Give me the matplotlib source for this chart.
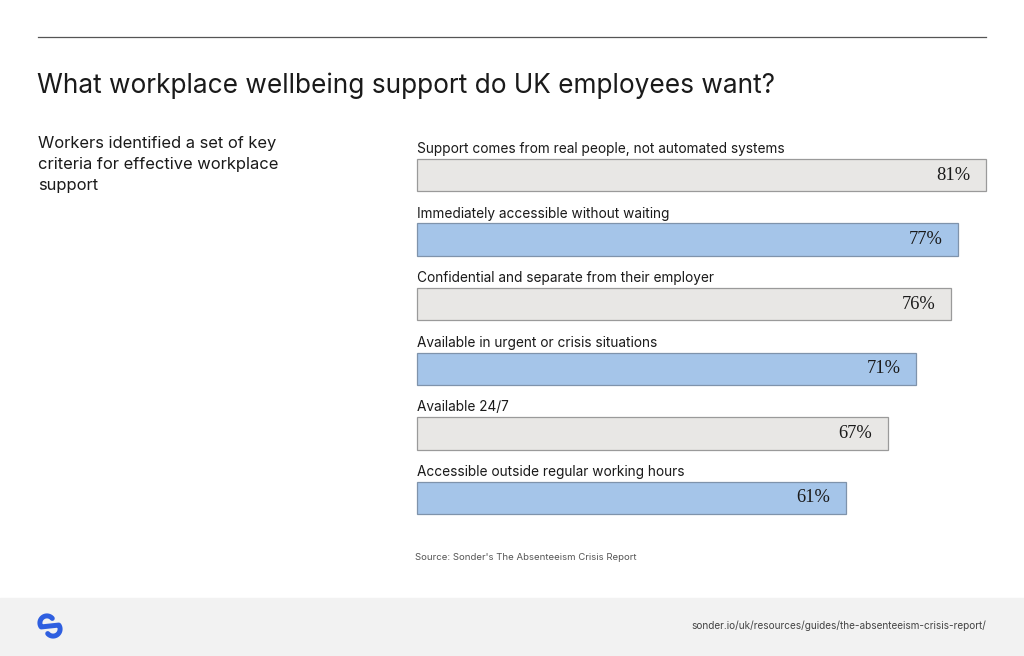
import numpy as np
import matplotlib.pyplot as plt
from matplotlib.patches import Rectangle

# data
criteria = [
    "Support comes from real people, not automated systems",
    "Immediately accessible without waiting",
    "Confidential and separate from their employer",
    "Available in urgent or crisis situations",
    "Available 24/7",
    "Accessible outside regular working hours",
]
shares = [81, 77, 76, 71, 67, 61]

title = "What workplace wellbeing support do UK employees want?"
subtitle = "Workers identified a set of key\ncriteria for effective workplace\nsupport"
source = "Source: Sonder's The Absenteeism Crisis Report"
url = "sonder.io/uk/resources/guides/the-absenteeism-crisis-report/"

W, H = 1024, 656
GREY = "#e8e7e5"
BLUE = "#a5c5e9"
TEXT = "#1a1a1a"

fig = plt.figure(figsize=(W / 100, H / 100), dpi=100)
fig.patch.set_facecolor("white")


def fx(px):
    return px / W


def fy(py):
    return 1 - py / H


# top rule
fig.add_artist(plt.Line2D([fx(38), fx(986)], [fy(37), fy(37)], color="#555555", lw=0.9))

fig.text(fx(37), fy(86), title, fontsize=18.9, family="Inter", color=TEXT, va="center")
fig.text(fx(38), fy(136), subtitle, fontsize=11.9, family="Inter", color=TEXT,
         va="top", linespacing=1.5)

# bar chart, axis spans bar area
row = 64.6
top = 175 - row / 2
bottom = 175 + 5 * row + row / 2
ax = fig.add_axes([fx(417), fy(bottom), fx(986) - fx(417), (bottom - top) / H])
ax.set_xlim(0, 81)
ax.set_ylim(len(shares) - 0.5, -0.5)
ax.axis("off")

for i, (lab, v) in enumerate(zip(criteria, shares)):
    fc = GREY if i % 2 == 0 else BLUE
    ec = "#9a9a9a" if i % 2 == 0 else "#7f93ab"
    bars = ax.barh(i, v, height=0.5, color=fc, edgecolor=ec, linewidth=0.9)
    for b in bars:
        b.set_clip_on(False)
    ax.text(0, i - 0.34, lab, fontsize=9.85, family="Inter", color=TEXT,
            va="baseline", ha="left")
    ax.text(v - 2.2, i, f"{v}%", fontsize=13.3, family="Liberation Serif",
            color=TEXT, va="center", ha="right")

fig.text(fx(415), fy(557), source, fontsize=6.9, family="Inter", color="#555555", va="center")

# footer band
fig.add_artist(Rectangle((0, 0), 1, fy(598), transform=fig.transFigure,
                         color="#f2f2f2", zorder=0))
fig.text(fx(986), fy(626), url, fontsize=7.2, family="Inter", color="#444444",
         va="center", ha="right")

# logo: a rounded S
lax = fig.add_axes([fx(36), fy(640), fx(28), 28 / H])
lax.set_xlim(-1, 1)
lax.set_ylim(-1, 1)
lax.set_aspect("equal")
lax.axis("off")
r = 0.5
t1 = np.radians(np.linspace(40, 215, 40))
t2 = np.radians(np.linspace(35, -140, 40))
xs = np.concatenate([-0.22 + r * np.cos(t1), 0.22 + r * np.cos(t2)])
ys = np.concatenate([0.22 + r * np.sin(t1), -0.22 + r * np.sin(t2)])
lax.plot(xs, ys, color="#2f5fe0", lw=3.6, solid_capstyle="round")

fig.savefig("out.png", dpi=100, facecolor=fig.get_facecolor())
